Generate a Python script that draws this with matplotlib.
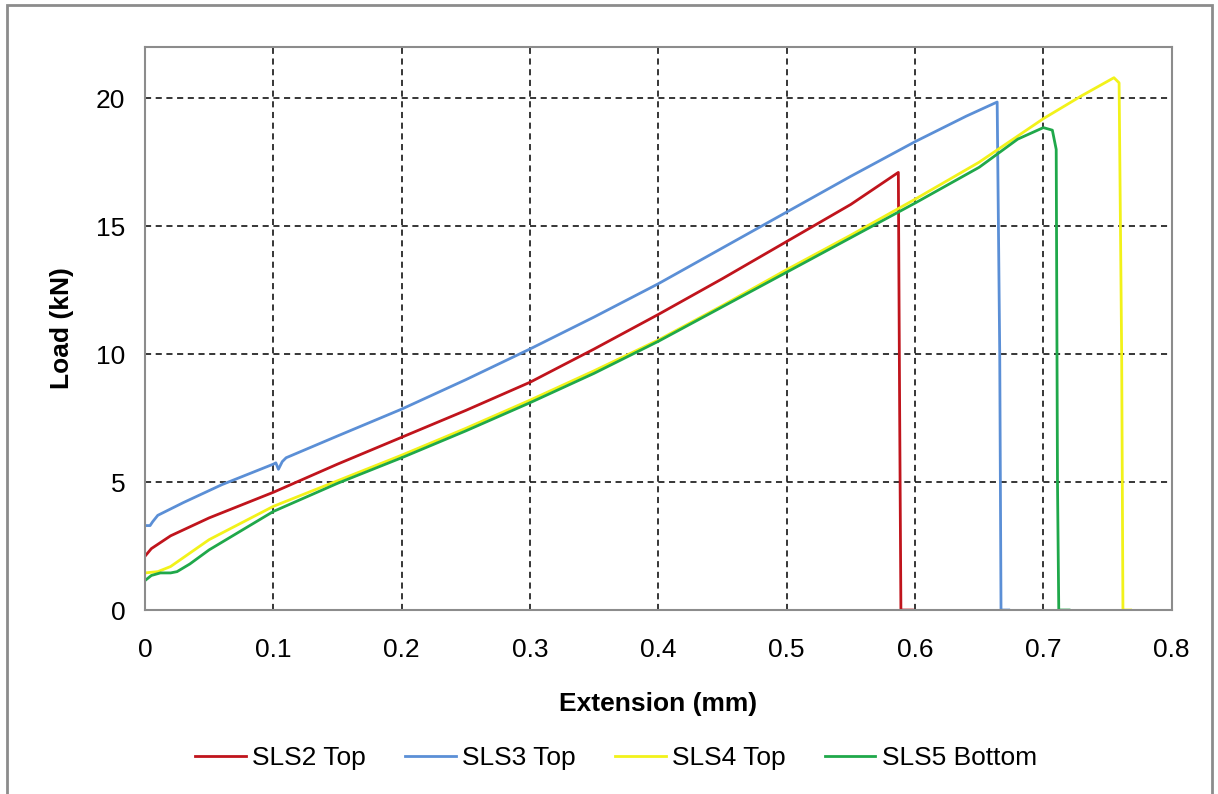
import matplotlib.pyplot as plt
from matplotlib.patches import Rectangle

plt.rcParams['font.family'] = ['Liberation Sans', 'DejaVu Sans']

# data (extension mm, load kN)
sls2_ext = [0.0, 0.005, 0.02, 0.05, 0.1, 0.15, 0.2, 0.25, 0.3, 0.35, 0.4, 0.45, 0.5, 0.55, 0.587, 0.588, 0.589, 0.598]
sls2_load = [2.1, 2.4, 2.9, 3.6, 4.6, 5.7, 6.75, 7.8, 8.9, 10.2, 11.55, 12.95, 14.4, 15.85, 17.1, 8.0, 0.0, 0.0]

sls3_ext = [0.0, 0.004, 0.006, 0.01, 0.03, 0.06, 0.1, 0.102, 0.104, 0.107, 0.11, 0.15, 0.2, 0.25, 0.3, 0.35, 0.4, 0.45, 0.5, 0.55, 0.6, 0.64, 0.664, 0.666, 0.667, 0.673]
sls3_load = [3.3, 3.3, 3.45, 3.7, 4.2, 4.9, 5.7, 5.75, 5.5, 5.8, 5.95, 6.8, 7.85, 9.0, 10.2, 11.45, 12.75, 14.15, 15.55, 16.95, 18.3, 19.3, 19.85, 10.0, 0.0, 0.0]

sls4_ext = [0.0, 0.01, 0.02, 0.05, 0.1, 0.15, 0.2, 0.25, 0.3, 0.35, 0.4, 0.45, 0.5, 0.55, 0.6, 0.65, 0.7, 0.73, 0.755, 0.759, 0.761, 0.762, 0.768]
sls4_load = [1.45, 1.5, 1.7, 2.75, 4.05, 5.05, 6.05, 7.1, 8.2, 9.35, 10.55, 11.9, 13.3, 14.65, 16.05, 17.5, 19.2, 20.1, 20.8, 20.6, 10.0, 0.0, 0.0]

sls5_ext = [0.0, 0.005, 0.012, 0.02, 0.025, 0.035, 0.05, 0.1, 0.15, 0.2, 0.25, 0.3, 0.35, 0.4, 0.45, 0.5, 0.55, 0.6, 0.65, 0.68, 0.7, 0.707, 0.71, 0.711, 0.712, 0.72]
sls5_load = [1.15, 1.35, 1.45, 1.45, 1.5, 1.8, 2.35, 3.85, 4.95, 5.95, 7.0, 8.1, 9.25, 10.5, 11.85, 13.2, 14.55, 15.9, 17.3, 18.4, 18.85, 18.75, 18.0, 5.0, 0.0, 0.0]

series = [
    ('SLS2 Top', sls2_ext, sls2_load, '#c0141c'),
    ('SLS3 Top', sls3_ext, sls3_load, '#5b8fd6'),
    ('SLS4 Top', sls4_ext, sls4_load, '#f2f21a'),
    ('SLS5 Bottom', sls5_ext, sls5_load, '#1fa84a'),
]

fig = plt.figure(figsize=(12.18, 7.94), dpi=100)
ax = fig.add_axes([0.119, 0.2317, 0.843, 0.7091])

for name, x, y, c in series:
    ax.plot(x, y, color=c, lw=2, label=name)

ax.set_xlim(0, 0.8)
ax.set_ylim(0, 22)
ax.set_xticks([0, 0.1, 0.2, 0.3, 0.4, 0.5, 0.6, 0.7, 0.8])
ax.set_xticklabels(['0', '0.1', '0.2', '0.3', '0.4', '0.5', '0.6', '0.7', '0.8'])
ax.set_yticks([0, 5, 10, 15, 20])
ax.tick_params(labelsize=19, length=0)
ax.tick_params(axis='x', pad=20)
ax.tick_params(axis='y', pad=14)
ax.grid(True, color='black', linestyle=(0, (4, 3)), linewidth=1.1)
for s in ax.spines.values():
    s.set_color('#8c8c8c')
    s.set_linewidth(1.5)

ax.set_xlabel('Extension (mm)', fontsize=19, fontweight='bold', labelpad=22)
ax.set_ylabel('Load (kN)', fontsize=19, fontweight='bold', labelpad=16)

fig.legend(loc='center', bbox_to_anchor=(0.506, 0.045), ncol=4, frameon=False,
           fontsize=19, handlelength=1.9, columnspacing=1.5, handletextpad=0.25)

# outer chart border
fig.patches.append(Rectangle((7 / 1218, -0.02), 1205 / 1218, 1.02 - 5 / 794,
                             transform=fig.transFigure, fill=False,
                             edgecolor='#8c8c8c', linewidth=2))

fig.savefig('out.png', dpi=100)
